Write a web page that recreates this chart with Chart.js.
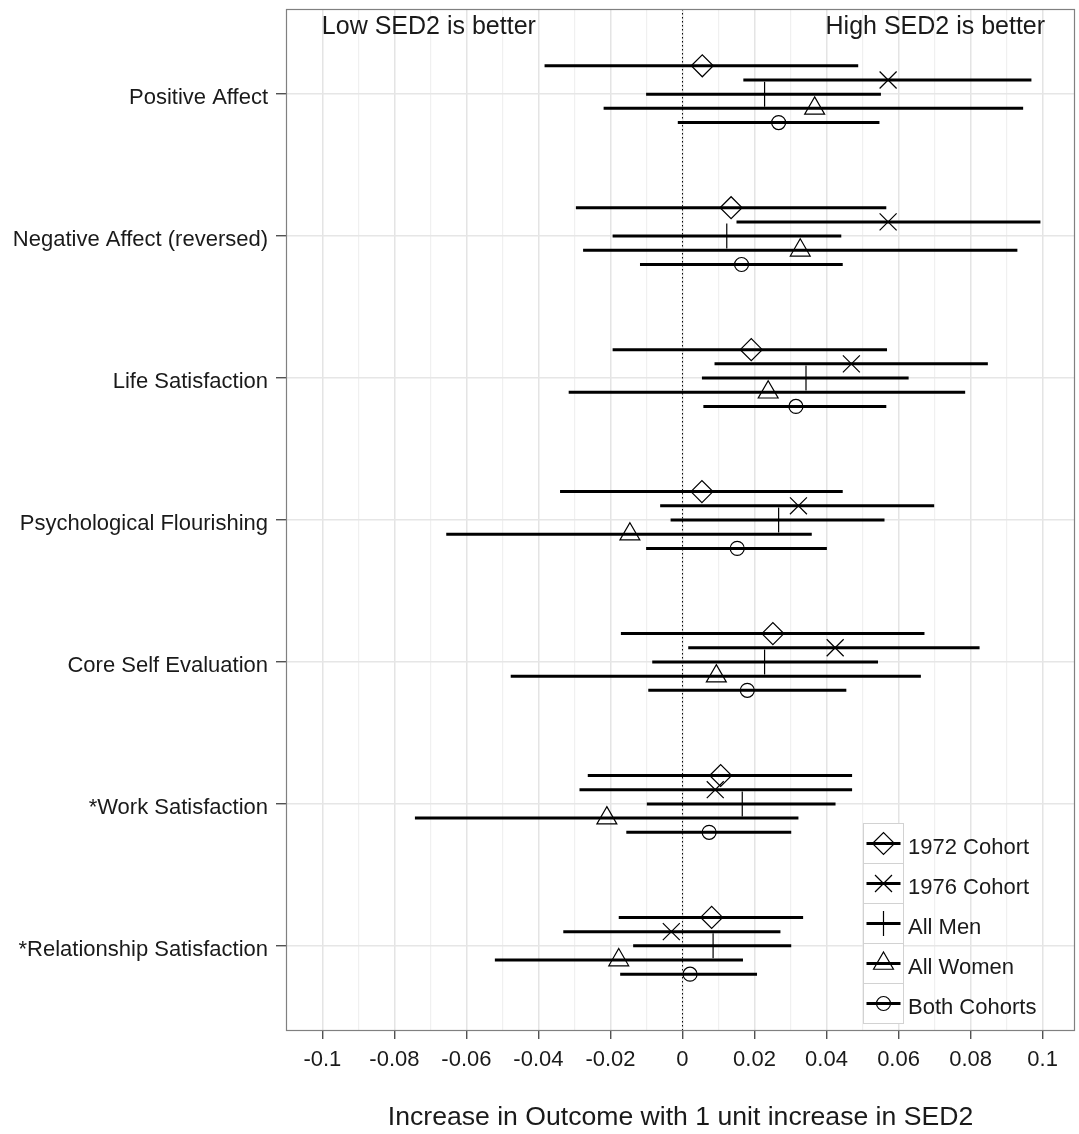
<!DOCTYPE html>
<html>
<head>
<meta charset="utf-8">
<script src="https://cdn.jsdelivr.net/npm/chart.js@4.4.1/dist/chart.umd.min.js"></script>
<style>
html,body{margin:0;padding:0;background:#ffffff;}
#wrap{width:1079px;height:1134px;position:relative;}
</style>
</head>
<body>
<div id="wrap"><canvas id="c" width="1079" height="1134"></canvas></div>
<script>
// ---------- data ----------
const categories = ['Positive Affect','Negative Affect (reversed)','Life Satisfaction','Psychological Flourishing','Core Self Evaluation','*Work Satisfaction','*Relationship Satisfaction'];
const seriesNames = ['1972 Cohort','1976 Cohort','All Men','All Women','Both Cohorts'];

const est1972 = [0.0055, 0.0135, 0.0191, 0.0054, 0.0251, 0.0106, 0.0081];
const lo1972  = [-0.0383,-0.0296,-0.0194,-0.0340,-0.0171,-0.0263,-0.0177];
const hi1972  = [0.0488, 0.0566, 0.0568, 0.0445, 0.0672, 0.0471, 0.0335];

const est1976 = [0.0571, 0.0571, 0.0469, 0.0322, 0.0424, 0.0091,-0.0031];
const lo1976  = [0.0169, 0.0150, 0.0089,-0.0062, 0.0016,-0.0286,-0.0331];
const hi1976  = [0.0969, 0.0994, 0.0848, 0.0699, 0.0825, 0.0471, 0.0272];

const estMen  = [0.0228, 0.0123, 0.0343, 0.0267, 0.0228, 0.0166, 0.0085];
const loMen   = [-0.0101,-0.0194, 0.0054,-0.0033,-0.0084,-0.0099,-0.0137];
const hiMen   = [0.0551, 0.0441, 0.0628, 0.0561, 0.0543, 0.0425, 0.0302];

const estWomen = [0.0367, 0.0327, 0.0238,-0.0146, 0.0094,-0.0210,-0.0177];
const loWomen  = [-0.0219,-0.0276,-0.0316,-0.0656,-0.0477,-0.0743,-0.0521];
const hiWomen  = [0.0946, 0.0930, 0.0785, 0.0359, 0.0662, 0.0322, 0.0168];

const estBoth = [0.0267, 0.0164, 0.0315, 0.0152, 0.0180, 0.0074, 0.0021];
const loBoth  = [-0.0013,-0.0118, 0.0058,-0.0101,-0.0095,-0.0156,-0.0173];
const hiBoth  = [0.0547, 0.0445, 0.0566, 0.0401, 0.0455, 0.0302, 0.0207];

const tickValues = [-0.1,-0.09,-0.08,-0.07,-0.06,-0.05,-0.04,-0.03,-0.02,-0.01,0,0.01,0.02,0.03,0.04,0.05,0.06,0.07,0.08,0.09,0.1];
const tickLabels = ['-0.1','','-0.08','','-0.06','','-0.04','','-0.02','','0','','0.02','','0.04','','0.06','','0.08','','0.1'];
const xTitle = 'Increase in Outcome with 1 unit increase in SED2';
const leftNote = 'Low SED2 is better';
const rightNote = 'High SED2 is better';

// ---------- styling ----------
const estSets = [est1972, est1976, estMen, estWomen, estBoth];
const loSets = [lo1972, lo1976, loMen, loWomen, loBoth];
const hiSets = [hi1972, hi1976, hiMen, hiWomen, hiBoth];
const dodge = [-0.2, -0.1, 0, 0.1, 0.2];
const shapes = ['rectRot','crossRot','cross','triangle','circle'];
const radii = [11, 12, 12.5, 11.5, 7];
const FONT = '"Liberation Sans", Arial, Helvetica, sans-serif';
const TXT = '#1a1a1a';

const datasets = [];
for (let s = 0; s < 5; s++) {
  datasets.push({
    type: 'scatter',
    label: seriesNames[s],
    data: estSets[s].map((v, i) => ({x: v, y: i + 1 + dodge[s]})),
    pointStyle: shapes[s],
    pointRadius: radii[s],
    pointHoverRadius: radii[s],
    backgroundColor: 'rgba(0,0,0,0)',
    borderColor: '#000000',
    borderWidth: 1.2,
    showLine: false
  });
}
for (let s = 0; s < 5; s++) {
  const d = [];
  for (let i = 0; i < categories.length; i++) {
    const y = i + 1 + dodge[s];
    d.push({x: loSets[s][i], y: y});
    d.push({x: hiSets[s][i], y: y});
    d.push({x: hiSets[s][i], y: null});
  }
  datasets.push({
    type: 'line',
    label: seriesNames[s] + ' CI',
    data: d,
    borderColor: '#000000',
    borderWidth: 3,
    pointRadius: 0,
    pointHoverRadius: 0,
    spanGaps: false,
    tension: 0,
    fill: false
  });
}
datasets.push({
  type: 'line',
  label: 'zero',
  data: [{x: 0, y: 0.4}, {x: 0, y: 7.6}],
  borderColor: '#000000',
  borderWidth: 1,
  borderDash: [1.5, 2.5],
  pointRadius: 0,
  fill: false
});

function drawMarker(ctx, style, r, x, y) {
  ctx.beginPath();
  if (style === 'rectRot') {
    ctx.moveTo(x - r, y); ctx.lineTo(x, y - r); ctx.lineTo(x + r, y); ctx.lineTo(x, y + r); ctx.closePath();
  } else if (style === 'crossRot') {
    const o = Math.SQRT1_2 * r;
    ctx.moveTo(x - o, y - o); ctx.lineTo(x + o, y + o);
    ctx.moveTo(x - o, y + o); ctx.lineTo(x + o, y - o);
  } else if (style === 'cross') {
    ctx.moveTo(x, y - r); ctx.lineTo(x, y + r);
    ctx.moveTo(x - r, y); ctx.lineTo(x + r, y);
  } else if (style === 'triangle') {
    const a = 2 * Math.PI / 3;
    ctx.moveTo(x, y - r);
    ctx.lineTo(x + Math.sin(a) * r, y - Math.cos(a) * r);
    ctx.lineTo(x + Math.sin(2 * a) * r, y - Math.cos(2 * a) * r);
    ctx.closePath();
  } else {
    ctx.arc(x, y, r, 0, Math.PI * 2);
  }
  ctx.stroke();
}

const decor = {
  id: 'decor',
  afterDraw(chart) {
    const ctx = chart.ctx;
    const a = chart.chartArea;
    const xs = chart.scales.x;
    ctx.save();
    ctx.strokeStyle = '#808080';
    ctx.lineWidth = 1.2;
    ctx.strokeRect(a.left + 0.5, a.top + 0.5, a.right - a.left - 1, a.bottom - a.top - 1);
    ctx.fillStyle = TXT;
    ctx.font = '25px ' + FONT;
    ctx.textBaseline = 'alphabetic';
    ctx.textAlign = 'left';
    ctx.fillText(leftNote, xs.getPixelForValue(-0.1) - 0.5, 34);
    ctx.textAlign = 'right';
    ctx.fillText(rightNote, xs.getPixelForValue(0.1) + 2.5, 34);
    const lx = 863.5, ly = 823.5, kw = 40, kh = 40;
    for (let s = 0; s < 5; s++) {
      const y0 = ly + s * kh;
      ctx.fillStyle = '#ffffff';
      ctx.fillRect(lx, y0, kw, kh);
      ctx.strokeStyle = '#d2d2d2';
      ctx.lineWidth = 1;
      ctx.strokeRect(lx, y0, kw, kh);
      const yc = y0 + kh / 2;
      ctx.strokeStyle = '#000000';
      ctx.lineWidth = 3;
      ctx.beginPath();
      ctx.moveTo(lx + 3, yc); ctx.lineTo(lx + kw - 3, yc);
      ctx.stroke();
      ctx.lineWidth = 1.2;
      drawMarker(ctx, shapes[s], radii[s], lx + kw / 2, yc);
      ctx.fillStyle = TXT;
      ctx.font = '22px ' + FONT;
      ctx.textAlign = 'left';
      ctx.textBaseline = 'alphabetic';
      ctx.fillText(seriesNames[s], 908, yc + 10);
    }
    ctx.restore();
  }
};

function zeroPad(s) { s.paddingTop = 0; s.paddingBottom = 0; s.paddingLeft = 0; s.paddingRight = 0; }

new Chart(document.getElementById('c'), {
  type: 'scatter',
  data: {datasets: datasets},
  options: {
    responsive: false,
    devicePixelRatio: 1,
    animation: false,
    events: [],
    layout: {autoPadding: false, padding: {top: 9, right: 4, left: 0, bottom: 0}},
    plugins: {legend: {display: false}, tooltip: {enabled: false}, title: {display: false}},
    scales: {
      x: {
        type: 'linear',
        min: -0.1101,
        max: 0.109,
        afterFit: s => { s.height = 103; zeroPad(s); },
        afterBuildTicks: s => { s.ticks = tickValues.map(v => ({value: v})); },
        ticks: {
          autoSkip: false,
          maxRotation: 0,
          padding: 8,
          color: TXT,
          font: {family: FONT, size: 22},
          callback: (v, i) => tickLabels[i]
        },
        grid: {
          color: c => (tickLabels[c.index] ? '#e4e4e4' : '#f0f0f0'),
          lineWidth: c => (tickLabels[c.index] ? 1.5 : 1.2),
          tickColor: c => (tickLabels[c.index] ? '#333333' : 'rgba(0,0,0,0)'),
          tickLength: 8,
          tickWidth: 1.2
        },
        border: {display: false},
        title: {
          display: true,
          text: xTitle,
          color: TXT,
          font: {family: FONT, size: 26.6},
          padding: {top: 0, bottom: 0}
        }
      },
      y: {
        type: 'linear',
        reverse: true,
        min: 0.4,
        max: 7.6,
        afterFit: s => { s.width = 286; zeroPad(s); },
        afterBuildTicks: s => { s.ticks = categories.map((c, i) => ({value: i + 1})); },
        ticks: {
          autoSkip: false,
          padding: 8,
          labelOffset: 4,
          color: TXT,
          font: {family: FONT, size: 22},
          callback: (v, i) => categories[i]
        },
        grid: {
          color: '#e6e6e6',
          lineWidth: 1.5,
          tickColor: '#333333',
          tickLength: 10,
          tickWidth: 1.2
        },
        border: {display: false}
      }
    }
  },
  plugins: [decor]
});
</script>
</body>
</html>
